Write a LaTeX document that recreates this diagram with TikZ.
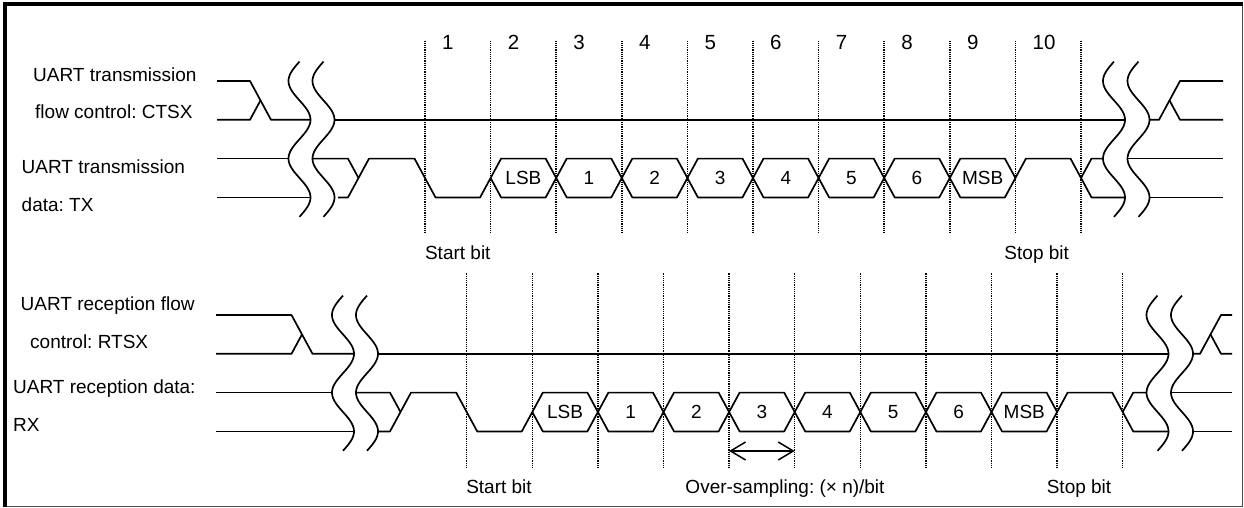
\documentclass[tikz,border=0pt]{standalone}
\usepackage{fontspec}
\setmainfont{Liberation Sans}
\usetikzlibrary{arrows.meta}
\frenchspacing

% break mark: a vertical sine wave through the four signal levels
\newcommand\wavebreak[2]{%
    \draw[sigline] plot[domain=0:155.2, samples=80, smooth]
        ({#1-11*sin(4.63918*\x)}, {#2+\x});}

\begin{document}
\begin{tikzpicture}[x=1pt, y=-1pt,
    sigline/.style={line width=1.7pt, line join=round},
    bitline/.style={line width=1.5pt, dash pattern=on 1.2pt off 1pt},
    namelbl/.style={anchor=base west, inner sep=0pt, font=\fontsize{19}{23}\selectfont},
    note/.style={anchor=base, inner sep=0pt, font=\fontsize{19}{23}\selectfont},
    cell/.style={inner sep=0pt, font=\fontsize{19}{23}\selectfont},
    bitnum/.style={anchor=base west, inner sep=0pt, font=\fontsize{20.5}{24}\selectfont}]
    \useasboundingbox (0,0) rectangle (1244,508);
    \draw[line width=1.3pt, black!70] (5.3,3.7) rectangle (1242.6,506.8);
    \draw[line width=4pt] (5.3,506.8) -- (5.3,3.7) -- (1242.6,3.7);

    % signal names
    \node[namelbl] (ctsA) at (33,81.7) {UART transmission};
    \node[namelbl] (ctsB) at (35,118.4) {flow control: CTSX};
    \node[namelbl] (txA) at (21.5,173.4) {UART transmission};
    \node[namelbl] (txB) at (21.5,211.7) {data: TX};
    \node[namelbl] (rtsA) at (20.5,310) {UART reception flow};
    \node[namelbl] (rtsB) at (30,348.4) {control: RTSX};
    \node[namelbl] (rxA) at (13,393.4) {UART reception data:};
    \node[namelbl] (rxB) at (13,431.7) {RX};

    % bit boundaries
    \foreach \k in {0,...,10} {
        \draw[bitline] ({425+65.6*\k},40.7) -- ({425+65.6*\k},233);
        \draw[bitline] ({466.7+65.6*\k},273.3) -- ({466.7+65.6*\k},468.3);
    }
    \foreach \k in {1,...,10}
        \node[bitnum] (num\k) at ({425+65.6*(\k-1)+17},50) {\k};

    % data cells, transmission and reception
    \foreach \lab [count=\k] in {LSB,1,2,3,4,5,6,MSB} {
        \pgfmathsetmacro\xa{425+65.6*\k}
        \pgfmathsetmacro\xb{\xa+65.6}
        \draw[sigline] (\xa,178) -- ({\xa+10.5},158.6) -- ({\xb-10.5},158.6) -- (\xb,178)
            -- ({\xb-10.5},197.4) -- ({\xa+10.5},197.4) -- cycle;
        \node[cell] (tx\k) at ({(\xa+\xb)/2},178) {\lab};
        \pgfmathsetmacro\xa{466.7+65.6*\k}
        \pgfmathsetmacro\xb{\xa+65.6}
        \draw[sigline] (\xa,412) -- ({\xa+10.5},392.6) -- ({\xb-10.5},392.6) -- (\xb,412)
            -- ({\xb-10.5},431.4) -- ({\xa+10.5},431.4) -- cycle;
        \node[cell] (rx\k) at ({(\xa+\xb)/2},412) {\lab};
    }

    % CTSX
    \draw[sigline] (217,81) -- (250,81) -- (271,119.8) -- (310.5,119.8);
    \draw[sigline] (217,119.8) -- (250,119.8) -- (260.5,100.4);
    \draw[sigline] (334.5,119.8) -- (1125,119.8);
    \draw[sigline] (1149.5,119.8) -- (1159,119.8) -- (1180,81) -- (1223,81);
    \draw[sigline] (1169.5,100.4) -- (1180,119.8) -- (1223,119.8);

    % TX
    \draw[sigline] (217,158.6) -- (288.5,158.6);
    \draw[sigline] (217,197.4) -- (310.5,197.4);
    \draw[sigline] (312.5,158.6) -- (348,158.6) -- (358.5,178);
    \draw[sigline] (338,197.4) -- (348,197.4) -- (369,158.6) -- (414.5,158.6)
        -- (435.5,197.4) -- (480.1,197.4) -- (490.6,178);
    \draw[sigline] (1015.4,178) -- (1025.9,158.6) -- (1070.5,158.6) -- (1091.5,197.4) -- (1125,197.4);
    \draw[sigline] (1081,178) -- (1091.5,158.6) -- (1103,158.6);
    \draw[sigline] (1127.5,158.6) -- (1223,158.6);
    \draw[sigline] (1149.5,197.4) -- (1223,197.4);

    % RTSX
    \draw[sigline] (216,315) -- (291.5,315) -- (312.5,353.8) -- (354,353.8);
    \draw[sigline] (216,353.8) -- (291.5,353.8) -- (302,334.4);
    \draw[sigline] (378,353.8) -- (1168.5,353.8);
    \draw[sigline] (1193,353.8) -- (1200,353.8) -- (1221,315) -- (1232,315);
    \draw[sigline] (1210.5,334.4) -- (1221,353.8) -- (1232,353.8);

    % RX
    \draw[sigline] (216,392.6) -- (332,392.6);
    \draw[sigline] (216,431.4) -- (354,431.4);
    \draw[sigline] (356,392.6) -- (390,392.6) -- (400.5,412);
    \draw[sigline] (378,431.4) -- (390,431.4) -- (411,392.6) -- (456.2,392.6)
        -- (477.2,431.4) -- (521.8,431.4) -- (532.3,412);
    \draw[sigline] (1057.1,412) -- (1067.6,392.6) -- (1112.2,392.6) -- (1133.2,431.4) -- (1168.5,431.4);
    \draw[sigline] (1122.7,412) -- (1133.2,392.6) -- (1146.5,392.6);
    \draw[sigline] (1171,392.6) -- (1232,392.6);
    \draw[sigline] (1193,431.4) -- (1232,431.4);

    % breaks
    \wavebreak{299.5}{61.6}
    \wavebreak{323.5}{61.6}
    \wavebreak{1114}{61.6}
    \wavebreak{1138.5}{61.6}
    \wavebreak{343}{295.6}
    \wavebreak{367}{295.6}
    \wavebreak{1157.5}{295.6}
    \wavebreak{1182}{295.6}

    % notes
    \node[note] (startT) at (457.8,259.5) {Start bit};
    \node[note] (stopT) at (1036.7,259.5) {Stop bit};
    \node[note] (startR) at (499,493) {Start bit};
    \node[note] (stopR) at (1079,493) {Stop bit};
    \node[note] (ovs) at (785,493) {Over-sampling: (× n)/bit};
    \coordinate (ovsL) at (729.1,451);
    \coordinate (ovsR) at (794.7,451);
    \draw[line width=1.5pt, {Straight Barb[length=15pt,width=18pt]}-{Straight Barb[length=15pt,width=18pt]}] (ovsL) -- (ovsR);
\end{tikzpicture}
\end{document}
